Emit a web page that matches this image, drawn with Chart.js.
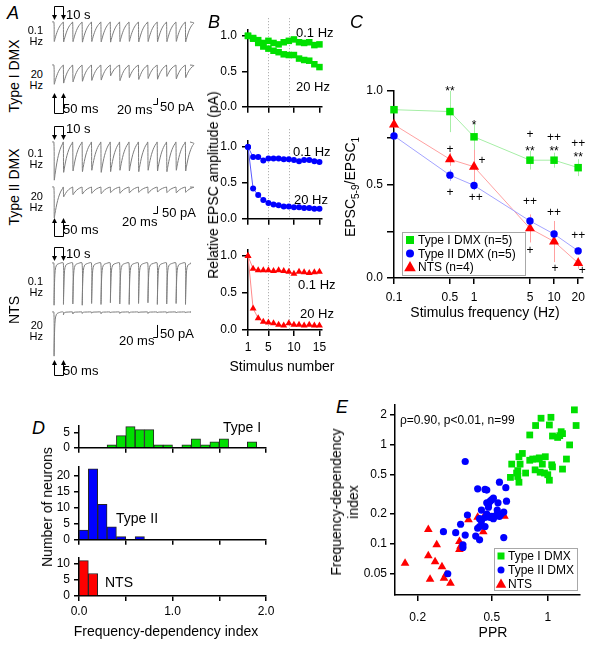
<!DOCTYPE html>
<html>
<head>
<meta charset="utf-8">
<script src="https://cdn.jsdelivr.net/npm/chart.js@4.4.1/dist/chart.umd.min.js"></script>
<style>
  body { margin: 0; background: #fff; }
  #fig { position: relative; width: 600px; height: 654px; overflow: hidden;
         font-family: "Liberation Sans", Arial, sans-serif; color: #000; }
  #fig canvas { position: absolute; }
  .t { position: absolute; white-space: nowrap; line-height: 1; }
</style>
</head>
<body>
<div id="fig"></div>
<script>
// ---------- data ----------
// A: EPSC peak amplitudes (pA) of the example traces, 15 stimuli each
const typeI_trace01 = [165, 168, 166, 170, 165, 168, 170, 166, 164, 168, 165, 167, 166, 164, 168];
const typeI_trace20 = [160, 150, 140, 135, 128, 125, 90, 130, 105, 120, 112, 118, 95, 115, 105];
const typeII_trace01 = [270, 215, 205, 210, 200, 215, 210, 200, 205, 210, 200, 205, 210, 200, 205];
const typeII_trace20 = [220, 70, 55, 50, 45, 48, 40, 45, 42, 38, 45, 35, 40, 42, 38];
const nts_trace01 = [175, 172, 170, 175, 168, 172, 165, 170, 172, 168, 165, 172, 170, 168, 172];
const nts_trace20 = [183, 12, 8, 6, 5, 7, 4, 6, 5, 4, 6, 4, 5, 4, 4];

// B: relative EPSC amplitude vs stimulus number
const stimulusNumber = [1, 2, 3, 4, 5, 6, 7, 8, 9, 10, 11, 12, 13, 14, 15];
const averagingWindow = [5, 9];
const typeI_01Hz = [1.0, 0.97, 0.94, 0.90, 0.93, 0.90, 0.88, 0.91, 0.93, 0.95, 0.91, 0.90, 0.91, 0.87, 0.88];
const typeI_20Hz = [1.0, 0.96, 0.90, 0.85, 0.82, 0.79, 0.77, 0.74, 0.73, 0.73, 0.68, 0.66, 0.65, 0.60, 0.56];
const typeII_01Hz = [1.0, 0.86, 0.86, 0.81, 0.84, 0.84, 0.84, 0.83, 0.83, 0.82, 0.80, 0.82, 0.82, 0.80, 0.79];
const typeII_20Hz = [1.0, 0.42, 0.33, 0.26, 0.22, 0.20, 0.19, 0.17, 0.17, 0.16, 0.16, 0.15, 0.15, 0.14, 0.14];
const nts_01Hz = [1.0, 0.83, 0.81, 0.81, 0.81, 0.80, 0.81, 0.80, 0.79, 0.76, 0.79, 0.78, 0.77, 0.78, 0.79];
const nts_20Hz = [1.0, 0.29, 0.16, 0.11, 0.10, 0.09, 0.07, 0.06, 0.09, 0.07, 0.07, 0.06, 0.07, 0.06, 0.06];

// C: EPSC5-9/EPSC1 vs stimulus frequency
const frequencies = [0.1, 0.5, 1, 5, 10, 20];
const typeI_ratio = [0.90, 0.89, 0.755, 0.63, 0.63, 0.59];
const typeI_sem = [0.015, 0.11, 0.075, 0.05, 0.04, 0.045];
const typeII_ratio = [0.76, 0.55, 0.495, 0.305, 0.235, 0.145];
const typeII_sem = [0.02, 0.03, 0.025, 0.03, 0.025, 0.02];
const nts_ratio = [0.82, 0.635, 0.595, 0.265, 0.195, 0.08];
const nts_sem = [0.02, 0.035, 0.09, 0.075, 0.11, 0.03];
const sigFreq = [0.5, 1, 5, 5, 10, 10, 20, 20, 0.5, 1.26, 0.5, 1.05, 5, 5, 10, 10.3, 20, 22.5];
const sigLevel = [1.01, 0.833, 0.765, 0.69, 0.75, 0.69, 0.717, 0.658, 0.685, 0.627, 0.458, 0.43, 0.408, 0.146, 0.351, 0.052, 0.225, 0.039];
const sigMark = ['**', '*', '+', '**', '++', '**', '++', '**', '+', '+', '+', '++', '++', '+', '++', '+', '++', '+'];

// D: histograms of frequency-dependency index (bin width 0.1)
const binStarts = [0, 0.1, 0.2, 0.3, 0.4, 0.5, 0.6, 0.7, 0.8, 0.9, 1.0, 1.1, 1.2, 1.3, 1.4, 1.5, 1.6, 1.7, 1.8, 1.9];
const typeI_counts = [0, 0, 0, 1, 4, 7, 6, 6, 1, 1, 0, 1, 3, 1, 2, 3, 0, 0, 2, 0];
const typeII_counts = [3, 22, 11, 4, 1, 0, 1, 0, 0, 0, 0, 0, 0, 0, 0, 0, 0, 0, 0, 0];
const nts_counts = [11, 7, 0, 0, 0, 0, 0, 0, 0, 0, 0, 0, 0, 0, 0, 0, 0, 0, 0, 0];

// E: PPR vs frequency-dependency index
const typeI_ppr = [0.92, 1.04, 1.39, 0.86, 1.02, 1.42, 0.80, 1.06, 1.13, 1.18, 1.20, 1.31, 0.73, 0.70, 0.64, 0.71, 0.80, 0.87, 0.97, 0.935, 1.05, 1.06, 1.26, 0.63, 0.69, 0.69, 0.70, 0.76, 0.855, 0.96, 1.02, 1.20, 0.83, 0.90, 0.68, 1.16, 1.00, 0.91];
const typeI_fdi = [1.86, 1.90, 2.26, 1.57, 1.59, 1.57, 1.26, 1.23, 1.19, 1.36, 1.30, 1.00, 0.82, 0.76, 0.64, 0.64, 0.70, 0.72, 0.76, 0.64, 0.63, 0.60, 0.72, 0.47, 0.55, 0.48, 0.42, 0.52, 0.56, 0.52, 0.44, 0.57, 0.72, 0.74, 0.52, 1.24, 0.50, 0.53];
const typeII_ppr = [0.36, 0.55, 0.42, 0.46, 0.47, 0.595, 0.49, 0.47, 0.50, 0.54, 0.60, 0.44, 0.48, 0.535, 0.58, 0.50, 0.51, 0.52, 0.49, 0.46, 0.43, 0.37, 0.34, 0.43, 0.46, 0.42, 0.275, 0.32, 0.36, 0.41, 0.43, 0.58, 0.35, 0.35, 0.29, 0.53, 0.55, 0.56, 0.48, 0.51, 0.44, 0.47];
const typeII_fdi = [0.68, 0.42, 0.36, 0.355, 0.35, 0.37, 0.27, 0.26, 0.28, 0.26, 0.27, 0.22, 0.235, 0.22, 0.21, 0.19, 0.18, 0.19, 0.185, 0.185, 0.18, 0.196, 0.158, 0.15, 0.15, 0.144, 0.133, 0.13, 0.123, 0.12, 0.11, 0.116, 0.098, 0.092, 0.05, 0.195, 0.19, 0.20, 0.25, 0.29, 0.17, 0.20];
const nts_ppr = [0.171, 0.228, 0.253, 0.228, 0.248, 0.27, 0.233, 0.277, 0.284, 0.30, 0.335, 0.335, 0.375, 0.42, 0.455, 0.45, 0.585, 0.34];
const nts_fdi = [0.064, 0.14, 0.098, 0.076, 0.066, 0.059, 0.044, 0.045, 0.049, 0.040, 0.106, 0.088, 0.175, 0.186, 0.19, 0.133, 0.19, 0.095];

// ---------- setup ----------
const GREEN = '#00e000', BLUE = '#0000ff', RED = '#ff0000';
Chart.defaults.font.family = '"Liberation Sans", Arial, sans-serif';
Chart.defaults.font.size = 12;
Chart.defaults.color = '#000';
Chart.defaults.animation = false;
Chart.defaults.plugins.legend.display = false;
Chart.defaults.plugins.tooltip.enabled = false;

const fig = document.getElementById('fig');

const mkCanvas = (left, top, w, h) => {
  const c = document.createElement('canvas');
  c.width = Math.round(w);
  c.height = Math.round(h);
  c.style.left = Math.round(left) + 'px';
  c.style.top = Math.round(top) + 'px';
  fig.appendChild(c);
  return c;
};

const text = (str, x, y, opt = {}) => {
  const d = document.createElement('div');
  d.className = 't';
  d.innerHTML = str;
  d.style.left = x + 'px';
  d.style.top = y + 'px';
  d.style.fontSize = (opt.size || 14) + 'px';
  if (opt.italic) d.style.fontStyle = 'italic';
  if (opt.align) d.style.textAlign = opt.align;
  if (opt.lh) d.style.lineHeight = opt.lh + 'px';
  const tx = opt.anchor === 'center' ? '-50%' : opt.anchor === 'right' ? '-100%' : '0';
  d.style.transform = `translate(${opt.rotate ? '-50%' : tx},-50%)` + (opt.rotate ? ' rotate(-90deg)' : '');
  fig.appendChild(d);
};

// axis with fixed size and hand-picked ticks
const axis = (type, min, max, values, labels, o = {}) => ({
  type, min, max, offset: false,
  border: {display: true, color: '#000', width: 1.5},
  grid: {display: true, offset: false, drawOnChartArea: false, drawTicks: true,
         tickLength: o.tick || 5, color: '#000', lineWidth: 1.5},
  ticks: {color: '#000', font: {size: 12}, padding: o.pad ?? 4, maxRotation: 0, minRotation: 0,
          autoSkip: false, callback: (v, i) => labels[i] ?? ''},
  afterBuildTicks: s => { s.ticks = values.map(v => ({value: v})); },
  afterFit: s => { if (o.horizontal) s.height = o.fit; else s.width = o.fit; },
});

// place a chart so that its plot area lands on box {L,T,R,B}
const fixedChart = (box, yW, xH, config) => {
  const padT = 12, padR = 14, padB = 2;
  const cv = mkCanvas(box.L - yW, box.T - padT, box.R - box.L + yW + padR, box.B - box.T + xH + padT + padB);
  config.options = config.options || {};
  config.options.responsive = false;
  config.options.layout = {padding: {left: 0, top: padT, right: padR, bottom: padB}};
  return new Chart(cv, config);
};

const drawMarker = (ctx, style, x, y, s) => {
  ctx.beginPath();
  if (style === 'rect') ctx.rect(x - s / 2, y - s / 2, s, s);
  else if (style === 'circle') ctx.arc(x, y, s / 2, 0, Math.PI * 2);
  else { ctx.moveTo(x, y - s * 0.6); ctx.lineTo(x + s * 0.58, y + s * 0.42); ctx.lineTo(x - s * 0.58, y + s * 0.42); ctx.closePath(); }
  ctx.fill();
};

const boxLegend = {
  id: 'boxLegend',
  afterDraw(chart, args, o) {
    const {ctx, chartArea} = chart;
    const x0 = (o.fromRight ? chartArea.right : chartArea.left) + o.dx;
    const y0 = chartArea.bottom + o.dy;
    ctx.save();
    ctx.fillStyle = '#fff';
    ctx.fillRect(x0, y0, o.w, o.h);
    ctx.strokeStyle = '#a8a8a8';
    ctx.lineWidth = 1;
    ctx.strokeRect(Math.round(x0) + 0.5, Math.round(y0) + 0.5, o.w, o.h);
    ctx.font = '12px "Liberation Sans", Arial, sans-serif';
    ctx.textBaseline = 'middle';
    chart.data.datasets.forEach((ds, i) => {
      const yy = y0 + o.first + i * o.step;
      ctx.fillStyle = ds.pointBackgroundColor;
      drawMarker(ctx, ds.pointStyle, x0 + o.mx, yy, o.ms[i]);
      ctx.fillStyle = '#000';
      ctx.fillText(ds.label, x0 + o.tx, yy + 1);
    });
    ctx.restore();
  }
};

// ---------- A: example traces ----------
const firstStim = 10, stimInterval = 50, traceEnd = 735;   // ms
const slowShape = [[0, 0], [2, 1], [6, 0.86], [12, 0.66], [20, 0.44], [29, 0.26], [38, 0.13], [46, 0.05]];
const fastShape = [[0, 0], [1, 1], [3, 0.55], [7, 0.18], [14, 0.05], [30, 0.01]];
const traceData = (amps, shape) => {
  const pts = [{x: 0, y: 0}];
  amps.forEach((a, i) => {
    const t0 = firstStim + i * stimInterval;
    shape.forEach(([dt, f]) => pts.push({x: t0 + dt, y: -a * f}));
  });
  pts.push({x: traceEnd, y: 0});
  return pts;
};

const arrowHead = (ctx, x, tip, dir) => {
  ctx.beginPath();
  ctx.moveTo(x, tip);
  ctx.lineTo(x - 2.5, tip - dir * 5);
  ctx.lineTo(x + 2.5, tip - dir * 5);
  ctx.closePath();
  ctx.fill();
};

const traceDecor = {
  id: 'traceDecor',
  afterDatasetsDraw(chart, args, o) {
    const {ctx, scales: {x, y}} = chart;
    const x1 = Math.round(x.getPixelForValue(firstStim)) + 0.5;
    const x2 = Math.round(x.getPixelForValue(firstStim + stimInterval)) + 0.5;
    const b = y.getPixelForValue(0);
    ctx.save();
    ctx.strokeStyle = '#000';
    ctx.fillStyle = '#000';
    ctx.lineWidth = 1;
    if (o.bracket === 'top') {
      const yt = Math.round(b - 16) + 0.5, tip = b - 2;
      ctx.beginPath();
      ctx.moveTo(x1, tip - 4); ctx.lineTo(x1, yt); ctx.lineTo(x2, yt); ctx.lineTo(x2, tip - 4);
      ctx.stroke();
      arrowHead(ctx, x1, tip, 1);
      arrowHead(ctx, x2, tip, 1);
    }
    if (o.bracket === 'bottom') {
      const yb = Math.round(b + o.drop) + 0.5, tip = b + o.rise;
      ctx.beginPath();
      ctx.moveTo(x1, tip + 4); ctx.lineTo(x1, yb); ctx.lineTo(x2, yb); ctx.lineTo(x2, tip + 4);
      ctx.stroke();
      arrowHead(ctx, x1, tip, -1);
      arrowHead(ctx, x2, tip, -1);
    }
    if (o.bar) {
      // 20 ms / 50 pA scale bar
      const xa = x.getPixelForValue(o.bar.t - 20), xb = x.getPixelForValue(o.bar.t);
      const ya = y.getPixelForValue(o.bar.v), yb = y.getPixelForValue(o.bar.v + 50);
      ctx.beginPath();
      ctx.moveTo(xa, Math.round(ya) + 0.5); ctx.lineTo(Math.round(xb) + 0.5, Math.round(ya) + 0.5);
      ctx.lineTo(Math.round(xb) + 0.5, yb);
      ctx.stroke();
    }
    ctx.restore();
  }
};

const traceChart = (amps, shape, baseY, pxPerPA, decor) => {
  const head = 3;
  const areaH = Math.max(...amps) * pxPerPA + head + 3;
  const padTop = decor.bracket === 'top' ? 20 : 2;
  const padBottom = decor.bracket === 'bottom' ? Math.max(2, decor.drop + 4 - (areaH - head)) : 2;
  const yMax = head / pxPerPA, yMin = yMax - areaH / pxPerPA;
  const cv = mkCanvas(50, baseY - head - padTop, 145, padTop + areaH + padBottom);
  return new Chart(cv, {
    type: 'line',
    data: {datasets: [{data: traceData(amps, shape), borderColor: '#7c7c7c', borderWidth: 1,
                       pointRadius: 0, tension: 0.3, clip: false}]},
    options: {
      responsive: false,
      layout: {padding: {left: 2, right: 5, top: padTop, bottom: padBottom}},
      scales: {x: {type: 'linear', display: false, min: 0, max: traceEnd},
               y: {type: 'linear', display: false, min: yMin, max: yMax}},
      plugins: {traceDecor: decor},
    },
    plugins: [traceDecor],
  });
};

traceChart(typeI_trace01, slowShape, 22, 0.12, {bracket: 'top'});
traceChart(typeI_trace20, slowShape, 65, 0.12, {bracket: 'bottom', rise: 28, drop: 48, bar: {t: 559, v: -325}});
traceChart(typeII_trace01, slowShape, 142, 0.14, {bracket: 'top'});
traceChart(typeII_trace20, slowShape, 187, 0.14, {bracket: 'bottom', rise: 31, drop: 49, bar: {t: 559, v: -186}});
traceChart(nts_trace01, fastShape, 263, 0.24, {bracket: 'top'});
traceChart(nts_trace20, fastShape, 312, 0.24, {bracket: 'bottom', rise: 48, drop: 63, bar: {t: 559, v: -104}});

// ---------- B: amplitude vs stimulus number ----------
const windowLines = {
  id: 'windowLines',
  beforeDatasetsDraw(chart) {
    const {ctx, chartArea, scales: {x}} = chart;
    ctx.save();
    ctx.strokeStyle = '#a0a0a0';
    ctx.lineWidth = 1;
    ctx.setLineDash([1, 2]);
    averagingWindow.forEach(n => {
      const px = Math.round(x.getPixelForValue(n)) + 0.5;
      ctx.beginPath();
      ctx.moveTo(px, chartArea.top - 12);
      ctx.lineTo(px, chartArea.bottom);
      ctx.stroke();
    });
    ctx.restore();
  }
};

const panelB = (box, slow, fast, color, line, style, r, xLabels, xH) => {
  const ds = series => ({
    data: stimulusNumber.map((n, i) => ({x: n, y: series[i]})),
    borderColor: line, borderWidth: 1, backgroundColor: color,
    pointBackgroundColor: color, pointBorderColor: color, pointBorderWidth: 0,
    pointStyle: style, pointRadius: r, clip: false,
  });
  return fixedChart(box, 30, xH, {
    type: 'line',
    data: {datasets: [ds(slow), ds(fast)]},
    options: {scales: {
      x: axis('linear', 1, 15.5, [1, 5, 10, 15], xLabels, {horizontal: true, fit: xH, pad: 4, tick: 6}),
      y: axis('linear', 0, 1.08, [0, 0.5, 1], ['0.0', '0.5', '1.0'], {fit: 30, pad: 5, tick: 6}),
    }},
    plugins: [windowLines],
  });
};

panelB({L: 248, T: 30, R: 322, B: 109}, typeI_01Hz, typeI_20Hz, GREEN, GREEN, 'rect', 4.6, [], 8);
panelB({L: 248, T: 141, R: 322, B: 221}, typeII_01Hz, typeII_20Hz, BLUE, '#5a5aff', 'circle', 3, [], 8);
panelB({L: 248, T: 250, R: 322, B: 330}, nts_01Hz, nts_20Hz, RED, '#ff8a8a', 'triangle', 4, ['1', '5', '10', '15'], 24);

// ---------- C: frequency dependence ----------
const errorBars = {
  id: 'errorBars',
  beforeDatasetsDraw(chart) {
    const {ctx, scales: {x, y}} = chart;
    ctx.save();
    ctx.lineWidth = 1;
    chart.data.datasets.forEach(ds => {
      ctx.strokeStyle = ds.borderColor;
      ds.data.forEach((p, i) => {
        const px = Math.round(x.getPixelForValue(p.x)) + 0.5;
        ctx.beginPath();
        ctx.moveTo(px, y.getPixelForValue(p.y - ds.errorBars[i]));
        ctx.lineTo(px, y.getPixelForValue(p.y + ds.errorBars[i]));
        ctx.stroke();
      });
    });
    ctx.restore();
  }
};

const sigMarks = {
  id: 'sigMarks',
  afterDatasetsDraw(chart) {
    const {ctx, scales: {x, y}} = chart;
    ctx.save();
    ctx.fillStyle = '#000';
    ctx.font = '12px "Liberation Sans", Arial, sans-serif';
    ctx.textAlign = 'center';
    ctx.textBaseline = 'middle';
    sigMark.forEach((m, i) => {
      const shift = m.includes('*') ? 3 : 0;   // asterisks sit high in the em box
      ctx.fillText(m, x.getPixelForValue(sigFreq[i]), y.getPixelForValue(sigLevel[i]) + shift);
    });
    ctx.restore();
  }
};

const cSeries = (label, values, sem, color, line, style, r) => ({
  label, data: frequencies.map((f, i) => ({x: f, y: values[i]})), errorBars: sem,
  borderColor: line, borderWidth: 1, backgroundColor: color,
  pointBackgroundColor: color, pointBorderColor: color, pointBorderWidth: 0,
  pointStyle: style, pointRadius: r, clip: false,
});

fixedChart({L: 394, T: 91, R: 583, B: 278}, 35, 26, {
  type: 'line',
  data: {datasets: [
    cSeries('Type I DMX (n=5)', typeI_ratio, typeI_sem, GREEN, '#a6eea6', 'rect', 5.3),
    cSeries('Type II DMX (n=5)', typeII_ratio, typeII_sem, BLUE, '#a3a3ff', 'circle', 3.7),
    cSeries('NTS (n=4)', nts_ratio, nts_sem, RED, '#ffa0a0', 'triangle', 5.8),
  ]},
  options: {
    scales: {
      x: axis('logarithmic', 0.1, 23, frequencies, ['0.1', '0.5', '1', '5', '10', '20'], {horizontal: true, fit: 26, pad: 6, tick: 6}),
      y: axis('linear', 0, 1, [0, 0.25, 0.5, 0.75, 1], ['0.0', '', '0.5', '', '1.0'], {fit: 35, pad: 4, tick: 7}),
    },
    plugins: {boxLegend: {dx: 8, dy: -46, w: 123, h: 43, first: 8, step: 13.5, mx: 8, tx: 16, ms: [8, 8, 10]}},
  },
  plugins: [errorBars, sigMarks, boxLegend],
});

// ---------- D: histograms ----------
const binWidth = 0.1;
const panelD = (box, counts, max, yTicks, color, xLabels, xH) => fixedChart(box, 30, xH, {
  type: 'bar',
  data: {datasets: [{
    data: counts.map((c, i) => ({x: binStarts[i] + binWidth / 2, y: c})),
    backgroundColor: color, borderColor: '#262626', borderWidth: 1,
    barPercentage: 1, categoryPercentage: 1,
  }]},
  options: {scales: {
    x: axis('linear', 0, 2, [0, 0.5, 1, 1.5, 2], xLabels, {horizontal: true, fit: xH, pad: 3, tick: 5}),
    y: axis('linear', 0, max, yTicks, yTicks.map(String), {fit: 30, pad: 4, tick: 5}),
  }},
});

panelD({L: 79, T: 426, R: 266, B: 449}, typeI_counts, 7.2, [0, 5], GREEN, [], 8);
panelD({L: 79, T: 467, R: 266, B: 541}, typeII_counts, 22.6, [0, 5, 10, 15, 20], BLUE, [], 8);
panelD({L: 79, T: 558, R: 266, B: 596}, nts_counts, 11.8, [0, 5, 10], RED, ['0.0', '', '1.0', '', '2.0'], 24);

// ---------- E: PPR vs frequency-dependency index ----------
const ePoints = (xs, ys) => xs.map((v, i) => ({x: v, y: ys[i]}));
fixedChart({L: 395, T: 405, R: 580, B: 595}, 35, 30, {
  type: 'scatter',
  data: {datasets: [
    {label: 'Type I DMX', data: ePoints(typeI_ppr, typeI_fdi), pointStyle: 'rect', pointRadius: 4.8,
     pointBackgroundColor: GREEN, pointBorderWidth: 0, clip: false},
    {label: 'Type II DMX', data: ePoints(typeII_ppr, typeII_fdi), pointStyle: 'circle', pointRadius: 3.6,
     pointBackgroundColor: BLUE, pointBorderWidth: 0, clip: false},
    {label: 'NTS', data: ePoints(nts_ppr, nts_fdi), pointStyle: 'triangle', pointRadius: 5,
     pointBackgroundColor: RED, pointBorderWidth: 0, clip: false},
  ]},
  options: {
    scales: {
      x: axis('logarithmic', 0.151, 1.49, [0.2, 0.5, 1], ['0.2', '0.5', '1'], {horizontal: true, fit: 30, pad: 9, tick: 6}),
      y: axis('logarithmic', 0.0305, 2.53, [0.05, 0.1, 0.2, 0.5, 1, 2], ['0.05', '0.1', '0.2', '0.5', '1', '2'], {fit: 35, pad: 3, tick: 5}),
    },
    plugins: {boxLegend: {fromRight: true, dx: -86, dy: -47, w: 83, h: 42, first: 8, step: 14, mx: 7, tx: 14, ms: [7, 7, 9]}},
  },
  plugins: [boxLegend],
});

// ---------- text ----------
const L = {size: 18, italic: true};
text('A', 7, 13, L);
text('B', 208, 22, L);
text('C', 350, 22, L);
text('D', 32, 428, L);
text('E', 336, 407, L);

// A labels
text('Type I DMX', 14, 76, {rotate: true, size: 14});
text('Type II DMX', 14, 187, {rotate: true, size: 14});
text('NTS', 14, 310, {rotate: true, size: 14});
const hz = (top, y) => text(`${top}<br>Hz`, 43, y, {size: 11, anchor: 'right', align: 'right', lh: 11});
hz('0.1', 36); hz('20', 80);
hz('0.1', 159); hz('20', 202);
hz('0.1', 287); hz('20', 331);
[14, 128, 253].forEach(y => text('10 s', 66, y, {size: 13}));
[108, 229, 370].forEach(y => text('50 ms', 63, y, {size: 13}));
text('20 ms', 117, 109, {size: 13});
text('50 pA', 160, 106, {size: 13});
text('20 ms', 122, 221, {size: 13});
text('50 pA', 162, 212, {size: 13});
text('20 ms', 119, 340, {size: 13});
text('50 pA', 160, 333, {size: 13});

// B labels
text('0.1 Hz', 296, 32, {size: 13});
text('20 Hz', 296, 86, {size: 13});
text('0.1 Hz', 293, 151, {size: 13});
text('20 Hz', 294, 199, {size: 13});
text('0.1 Hz', 298, 284, {size: 13});
text('20 Hz', 300, 313, {size: 13});
text('Relative EPSC amplitude (pA)', 213, 185, {rotate: true, size: 14});
text('Stimulus number', 282, 366, {anchor: 'center', size: 14});

// C labels
text('EPSC<sub style="font-size:10px">5-9</sub>/EPSC<sub style="font-size:10px">1</sub>', 352, 187, {rotate: true, size: 14});
text('Stimulus frequency (Hz)', 485, 312, {anchor: 'center', size: 14});

// D labels
text('Number of neurons', 47, 507, {rotate: true, size: 14});
text('Frequency-dependency index', 166, 631, {anchor: 'center', size: 14});
text('Type I', 223, 427, {size: 14});
text('Type II', 116, 518, {size: 14});
text('NTS', 105, 582, {size: 14});

// E labels
text('ρ=0.90, p&lt;0.01, n=99', 400, 420, {size: 12});
text('Frequency-dependency<br>index', 345, 502, {rotate: true, size: 14, align: 'center', lh: 17});
text('PPR', 493, 632, {anchor: 'center', size: 14});
</script>
</body>
</html>
